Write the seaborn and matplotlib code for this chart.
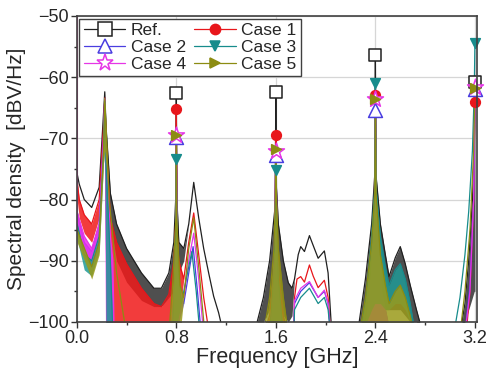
import numpy as np
import pandas as pd
import matplotlib
matplotlib.use("Agg")
import matplotlib.pyplot as plt
from matplotlib.lines import Line2D
from matplotlib.ticker import MultipleLocator
import seaborn as sns

# ---------------- data ----------------
series_names = ["Ref.", "Case 1", "Case 2", "Case 3", "Case 4", "Case 5"]
peak_freqs = [0.8, 1.6, 2.4, 3.2]

ref_f  = [0.000, 0.02, 0.06, 0.12, 0.18, 0.215, 0.225, 0.235, 0.27, 0.32, 0.40, 0.52, 0.62, 0.68, 0.74, 0.78, 0.795, 0.80, 0.805, 0.82, 0.86, 0.90, 0.94, 0.98, 1.02, 1.06, 1.10, 1.14, 1.18,
          1.40, 1.45, 1.50, 1.55, 1.59, 1.595, 1.60, 1.605, 1.62, 1.66, 1.70, 1.73, 1.75, 1.78, 1.80, 1.83, 1.87, 1.90, 1.94, 1.99, 2.02, 2.05,
          2.22, 2.27, 2.32, 2.37, 2.395, 2.40, 2.405, 2.44, 2.48, 2.51, 2.56, 2.60, 2.64, 2.68, 2.73, 2.77, 2.80,
          3.08, 3.12, 3.15, 3.18, 3.195, 3.20]
ref_hi = [-75.5, -77.5, -80.0, -81.3, -78.0, -66.0, -62.4, -68.0, -79.0, -84.0, -88.0, -92.0, -94.5, -94.5, -92.0, -87.0, -80.0, -62.5, -80.0, -87.0, -88.0, -84.0, -77.2, -83.0, -88.0, -92.0, -95.8, -98.5, -102.0,
          -102.0, -100.0, -96.0, -90.0, -82.0, -78.0, -62.4, -78.0, -84.0, -90.0, -93.6, -94.5, -93.0, -89.0, -87.7, -88.5, -85.9, -87.5, -89.6, -88.4, -92.0, -102.0,
          -102.0, -100.0, -93.0, -84.0, -76.0, -56.4, -76.0, -84.0, -89.0, -92.6, -89.5, -87.7, -90.5, -94.0, -98.0, -101.0, -102.0,
          -102.0, -97.0, -90.0, -80.0, -72.0, -60.8]
ref_lo = [-75.5, -77.5, -80.0, -81.3, -78.0, -66.0, -62.4, -72.0, -84.0, -90.0, -93.5, -96.5, -97.5, -97.5, -96.0, -95.0, -94.0, -94.0, -94.0, -92.0, -90.0, -84.0, -77.2, -83.0, -88.0, -92.0, -95.8, -98.5, -102.0,
          -102.0, -100.0, -100.0, -98.0, -96.0, -96.0, -96.0, -96.0, -97.0, -99.0, -100.0, -99.0, -93.0, -89.0, -87.7, -88.5, -85.9, -87.5, -89.6, -88.4, -92.0, -102.0,
          -102.0, -100.0, -100.0, -98.0, -96.0, -96.0, -96.0, -97.0, -98.0, -98.0, -98.0, -98.0, -99.0, -100.0, -100.0, -101.0, -102.0,
          -102.0, -100.0, -98.0, -96.0, -95.0, -95.0]

c1_f  = [0.000, 0.003, 0.02, 0.06, 0.12, 0.18, 0.215, 0.225, 0.235, 0.27, 0.32, 0.40, 0.52, 0.62, 0.68, 0.74, 0.78, 0.795, 0.80, 0.805, 0.82, 0.86, 0.90, 0.94, 0.98, 1.02, 1.05, 1.06,
         1.50, 1.55, 1.585, 1.595, 1.60, 1.605, 1.62, 1.66, 1.70, 1.745, 1.75, 1.77, 1.80, 1.83, 1.87, 1.90, 1.94, 1.99, 2.02, 2.04,
         2.30, 2.36, 2.39, 2.40, 2.41, 2.44, 2.50,
         3.13, 3.16, 3.19, 3.20]
c1_hi = [-45.0, -77.0, -80.0, -82.5, -84.0, -80.0, -68.0, -63.4, -70.0, -83.0, -87.0, -90.5, -94.5, -97.0, -97.5, -95.5, -90.0, -84.0, -65.2, -85.0, -90.0, -93.0, -87.0, -82.2, -89.0, -96.0, -100.0, -102.0,
         -102.0, -99.0, -92.0, -84.0, -69.5, -84.0, -92.0, -99.0, -102.0, -102.0, -96.0, -93.0, -92.6, -93.5, -90.7, -92.5, -94.4, -93.2, -96.0, -102.0,
         -102.0, -95.0, -85.0, -63.0, -85.0, -95.0, -102.0,
         -102.0, -95.0, -80.0, -64.0]
c1_lo = [-102.0, -80.0, -83.0, -85.5, -87.0, -83.0, -72.0, -70.0, -102.0, -102.0, -102.0, -102.0, -102.0, -102.0, -102.0, -102.0, -102.0, -102.0, -102.0, -102.0, -100.0, -93.0, -87.0, -82.2, -89.0, -96.0, -100.0, -102.0,
         -102.0, -100.0, -100.0, -100.0, -100.0, -100.0, -100.0, -100.0, -102.0, -102.0, -96.0, -93.0, -92.6, -93.5, -90.7, -92.5, -94.4, -93.2, -96.0, -102.0,
         -102.0, -100.0, -100.0, -100.0, -100.0, -100.0, -102.0,
         -102.0, -95.0, -80.0, -64.0]

c2_f  = [0.003, 0.06, 0.12, 0.18, 0.215, 0.225, 0.235, 0.27, 0.29,
         0.76, 0.785, 0.795, 0.80, 0.805, 0.82, 0.86, 0.90, 0.935, 0.97, 1.00,
         1.55, 1.585, 1.60, 1.615, 1.65, 1.745, 1.75, 1.80, 1.87, 1.94, 1.99, 2.02, 2.04,
         2.32, 2.37, 2.395, 2.40, 2.405, 2.45, 2.52,
         3.12, 3.16, 3.19, 3.20]
c2_hi = [-82.0, -87.0, -88.5, -84.0, -70.0, -63.5, -72.0, -88.0, -102.0,
         -102.0, -95.0, -88.0, -69.8, -88.0, -95.0, -97.0, -92.0, -87.7, -95.0, -102.0,
         -102.0, -94.0, -72.7, -94.0, -102.0, -102.0, -97.0, -95.0, -93.6, -96.0, -95.0, -97.0, -102.0,
         -102.0, -92.0, -82.0, -65.4, -82.0, -95.0, -102.0,
         -102.0, -94.0, -80.0, -62.0]
c2_lo = [-84.5, -89.5, -91.0, -86.5, -72.0, -70.0, -102.0, -102.0, -102.0,
         -102.0, -100.0, -100.0, -100.0, -100.0, -100.0, -97.0, -92.0, -87.7, -95.0, -102.0,
         -102.0, -100.0, -100.0, -100.0, -102.0, -102.0, -97.0, -95.0, -93.6, -96.0, -95.0, -97.0, -102.0,
         -102.0, -100.0, -100.0, -100.0, -100.0, -100.0, -102.0,
         -102.0, -94.0, -80.0, -62.0]

c3_f  = [0.003, 0.06, 0.12, 0.18, 0.215, 0.225, 0.235, 0.27, 0.29,
         0.77, 0.79, 0.797, 0.80, 0.803, 0.81, 0.84, 0.88, 0.925, 0.96, 0.99,
         1.55, 1.585, 1.595, 1.60, 1.605, 1.62, 1.66, 1.745, 1.75, 1.80, 1.87, 1.94, 1.99, 2.02, 2.04,
         2.28, 2.33, 2.37, 2.395, 2.40, 2.405, 2.44, 2.48, 2.51, 2.56, 2.60, 2.64, 2.68, 2.72,
         3.03, 3.08, 3.12, 3.15, 3.18, 3.195, 3.20]
c3_hi = [-84.0, -89.0, -90.0, -86.0, -72.0, -64.0, -74.0, -90.0, -102.0,
         -102.0, -90.0, -83.0, -73.4, -83.0, -90.0, -97.0, -93.0, -88.5, -95.0, -102.0,
         -102.0, -92.0, -85.0, -75.2, -85.0, -93.0, -102.0, -102.0, -98.0, -96.0, -94.5, -97.0, -96.0, -98.0, -102.0,
         -102.0, -95.0, -86.0, -78.0, -61.0, -78.0, -86.0, -91.0, -94.0, -91.5, -90.5, -93.0, -97.0, -102.0,
         -102.0, -96.0, -89.0, -82.0, -72.0, -62.0, -54.4]
c3_lo = [-86.5, -91.5, -92.5, -88.5, -74.0, -72.0, -102.0, -102.0, -102.0,
         -102.0, -100.0, -100.0, -100.0, -100.0, -100.0, -97.0, -93.0, -88.5, -95.0, -102.0,
         -102.0, -100.0, -100.0, -100.0, -100.0, -100.0, -102.0, -102.0, -98.0, -96.0, -94.5, -97.0, -96.0, -98.0, -102.0,
         -102.0, -100.0, -98.0, -97.0, -97.0, -97.0, -97.0, -98.0, -98.0, -97.0, -97.0, -98.0, -100.0, -102.0,
         -102.0, -96.0, -89.0, -82.0, -72.0, -62.0, -54.4]

c4_f  = [0.000, 0.003, 0.06, 0.12, 0.18, 0.215, 0.225, 0.235, 0.27, 0.29, 0.30,
         0.77, 0.785, 0.795, 0.80, 0.805, 0.82, 0.86, 0.90, 0.94, 0.98, 1.02,
         1.55, 1.585, 1.60, 1.615, 1.65, 1.745, 1.75, 1.80, 1.87, 1.94, 1.99, 2.02, 2.04,
         2.32, 2.37, 2.395, 2.40, 2.405, 2.45, 2.52,
         3.12, 3.16, 3.19, 3.20]
c4_hi = [-40.0, -82.0, -86.0, -88.0, -84.0, -70.0, -63.5, -72.0, -86.0, -90.0, -102.0,
         -102.0, -94.0, -87.0, -69.4, -87.0, -94.0, -96.0, -90.0, -85.5, -93.0, -102.0,
         -102.0, -93.0, -72.0, -93.0, -102.0, -102.0, -96.5, -94.5, -93.4, -96.0, -94.8, -97.0, -102.0,
         -102.0, -92.0, -82.0, -63.6, -82.0, -95.0, -102.0,
         -102.0, -95.0, -80.0, -61.6]
c4_lo = [-102.0, -84.5, -88.5, -90.5, -86.5, -72.0, -70.0, -102.0, -102.0, -102.0, -102.0,
         -102.0, -100.0, -100.0, -100.0, -100.0, -100.0, -96.0, -90.0, -85.5, -93.0, -102.0,
         -102.0, -100.0, -100.0, -100.0, -102.0, -102.0, -96.5, -94.5, -93.4, -96.0, -94.8, -97.0, -102.0,
         -102.0, -100.0, -100.0, -100.0, -100.0, -100.0, -102.0,
         -102.0, -95.0, -80.0, -61.6]

c5_f  = [0.003, 0.12, 0.18, 0.215, 0.225, 0.26, 0.32, 0.40,
         0.74, 0.77, 0.79, 0.797, 0.80, 0.803, 0.81, 0.83, 0.86, 0.90, 0.94, 0.98, 1.03,
         1.50, 1.55, 1.585, 1.595, 1.60, 1.605, 1.62, 1.66, 1.70,
         2.27, 2.32, 2.37, 2.395, 2.40, 2.405, 2.44, 2.48, 2.51, 2.56, 2.60, 2.64, 2.68, 2.71,
         3.08, 3.12, 3.16, 3.19, 3.20]
c5_hi = [-85.0, -91.0, -87.0, -72.0, -63.5, -80.0, -92.0, -102.0,
         -102.0, -94.0, -86.0, -82.8, -69.5, -82.8, -86.0, -94.0, -96.0, -88.0, -83.0, -91.0, -102.0,
         -102.0, -96.0, -88.0, -80.0, -71.8, -80.0, -88.0, -96.0, -102.0,
         -102.0, -96.0, -87.0, -79.0, -63.5, -79.0, -89.0, -94.0, -97.0, -95.0, -94.0, -96.0, -99.0, -102.0,
         -102.0, -95.0, -85.0, -72.0, -61.8]
c5_lo = [-87.0, -93.0, -89.0, -74.0, -72.0, -80.0, -92.0, -102.0,
         -102.0, -102.0, -102.0, -102.0, -102.0, -102.0, -102.0, -102.0, -96.0, -88.0, -83.0, -91.0, -102.0,
         -102.0, -102.0, -102.0, -102.0, -102.0, -102.0, -102.0, -102.0, -102.0,
         -102.0, -102.0, -102.0, -102.0, -102.0, -102.0, -102.0, -102.0, -102.0, -102.0, -102.0, -102.0, -102.0, -102.0,
         -102.0, -95.0, -85.0, -72.0, -61.8]

ref_peaks = [-62.6, -62.4, -56.4, -60.8]
c1_peaks  = [-65.2, -69.5, -63.0, -64.0]
c2_peaks  = [-69.8, -72.7, -65.4, -62.0]
c3_peaks  = [-73.4, -75.2, -61.0, -54.4]
c4_peaks  = [-69.4, -72.0, -63.6, -61.6]
c5_peaks  = [-69.5, -71.8, -63.5, -61.8]

x_ticks = [0.0, 0.8, 1.6, 2.4, 3.2]
x_tick_labels = ["0.0", "0.8", "1.6", "2.4", "3.2"]
y_ticks = [-100, -90, -80, -70, -60, -50]

# ---------------- styling ----------------
sns.set_style("ticks")
plt.rcParams["font.family"] = ["Liberation Sans", "DejaVu Sans"]

colors = {"Ref.": "#202020", "Case 1": "#e8161b", "Case 2": "#4a3ee0",
          "Case 3": "#178c8c", "Case 4": "#e636e6", "Case 5": "#8c8c12"}
band_colors = {"Ref.": "#303030", "Case 1": "#f01a1a", "Case 2": "#6a5ae8",
               "Case 3": "#1f9a96", "Case 4": "#ee30ee", "Case 5": "#9a9a1a"}
markers = {"Ref.": "s", "Case 1": "o", "Case 2": "^", "Case 3": "v", "Case 4": "*", "Case 5": ">"}
filled = {"Ref.": False, "Case 1": True, "Case 2": False, "Case 3": True, "Case 4": False, "Case 5": True}
msize = {"Ref.": 9, "Case 1": 7, "Case 2": 10, "Case 3": 7, "Case 4": 12, "Case 5": 7}

data = {
    "Ref.":   (ref_f, ref_hi, ref_lo, ref_peaks),
    "Case 1": (c1_f, c1_hi, c1_lo, c1_peaks),
    "Case 2": (c2_f, c2_hi, c2_lo, c2_peaks),
    "Case 3": (c3_f, c3_hi, c3_lo, c3_peaks),
    "Case 4": (c4_f, c4_hi, c4_lo, c4_peaks),
    "Case 5": (c5_f, c5_hi, c5_lo, c5_peaks),
}

fig = plt.figure(figsize=(4.89, 3.70), dpi=100)
ax = fig.add_axes([0.157, 0.130, 0.818, 0.827])

draw_order = ["Ref.", "Case 1", "Case 2", "Case 4", "Case 3", "Case 5"]
for z, name in enumerate(draw_order):
    f, hi, lo, pk = data[name]
    ax.fill_between(f, lo, hi, color=band_colors[name], alpha=0.85, lw=0, zorder=2 + z)
    df = pd.DataFrame({"f": f, "v": hi})
    sns.lineplot(data=df, x="f", y="v", ax=ax, color=colors[name], lw=0.9,
                 sort=False, estimator=None, zorder=2.5 + z)

for name in draw_order:
    f, hi, lo, pk = data[name]
    dfp = pd.DataFrame({"f": peak_freqs, "v": pk})
    fc = colors[name] if filled[name] else "white"
    sns.scatterplot(data=dfp, x="f", y="v", ax=ax, marker=markers[name], s=msize[name] ** 2,
                    facecolor=fc, edgecolor=colors[name], linewidth=1.1, zorder=20, clip_on=False)

ax.set_xlim(0, 3.215)
ax.set_ylim(-100, -50)
ax.set_xticks(x_ticks)
ax.set_xticklabels(x_tick_labels)
ax.set_yticks(y_ticks)
ax.xaxis.set_minor_locator(MultipleLocator(0.4))
ax.yaxis.set_minor_locator(MultipleLocator(5))
ax.tick_params(axis="both", which="major", direction="out", length=4, width=1, labelsize=13,
               color="#333333", pad=2)
ax.tick_params(axis="both", which="minor", direction="out", length=2.5, width=1, color="#333333")
ax.grid(True, which="major", color="#d6d6d6", lw=0.9, zorder=0)
ax.set_axisbelow(True)
for sp in ax.spines.values():
    sp.set_color("#404040")
    sp.set_linewidth(1.2)
    sp.set_zorder(30)

ax.set_xlabel("Frequency [GHz]", fontsize=15.5, labelpad=0)
ax.set_ylabel("Spectral density  [dBV/Hz]", fontsize=15, labelpad=1)

# legend: row-major order (Ref., Case 1 / Case 2, Case 3 / Case 4, Case 5)
legend_order = ["Ref.", "Case 2", "Case 4", "Case 1", "Case 3", "Case 5"]
handles = []
for name in legend_order:
    fc = colors[name] if filled[name] else "white"
    handles.append(Line2D([0], [0], color=colors[name], lw=0.9, marker=markers[name],
                          markersize=msize[name] * 1.05, markerfacecolor=fc,
                          markeredgecolor=colors[name], markeredgewidth=1.1))
leg = ax.legend(handles, legend_order, loc="upper left", ncol=2, fontsize=12.5,
                frameon=True, fancybox=False, edgecolor="#404040", framealpha=1,
                handlelength=2.4, handletextpad=0.3, columnspacing=0.5,
                labelspacing=0.1, borderpad=0.25, borderaxespad=0.15)
leg.get_frame().set_linewidth(1.0)
leg.set_zorder(40)

fig.savefig("out.png", dpi=100)
